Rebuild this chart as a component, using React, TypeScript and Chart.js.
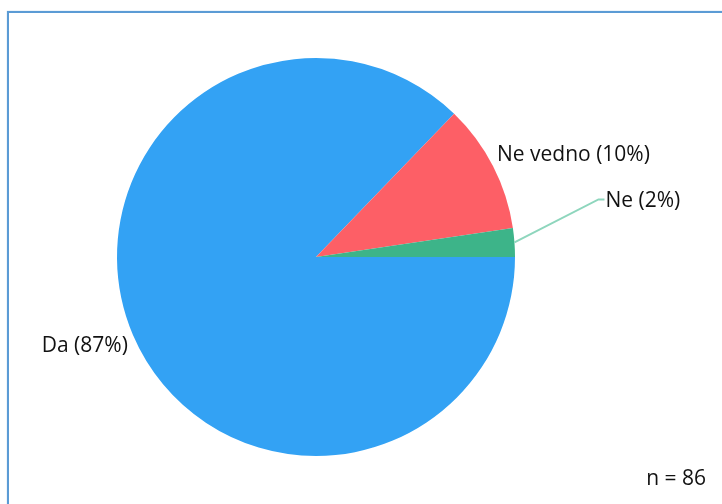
import React, { useEffect, useRef } from "react";
import { Chart, registerables } from "chart.js";

Chart.register(...registerables);

const categories = ["Da", "Ne vedno", "Ne"];
const counts = [75, 9, 2];
const percentLabels = ["87%", "10%", "2%"];
const colors = ["#33A2F4", "#FD5F66", "#3DB489"];
const leaderColor = "#8ED6BD";
const noteText = "n = 86";
const FONT = "21px 'Open Sans', sans-serif";

const labelPlugin = {
  id: "pieLabels",
  afterDraw(chart: any) {
    const ctx = chart.ctx;
    const meta = chart.getDatasetMeta(0);
    ctx.save();
    ctx.font = FONT;
    ctx.fillStyle = "#111111";
    meta.data.forEach((arc: any, i: number) => {
      const { x, y, startAngle, endAngle, outerRadius } = arc.getProps(
        ["x", "y", "startAngle", "endAngle", "outerRadius"],
        true
      );
      const mid = (startAngle + endAngle) / 2;
      const ex = x + Math.cos(mid) * outerRadius;
      const ey = y + Math.sin(mid) * outerRadius;
      const text = `${categories[i]} (${percentLabels[i]})`;
      const frac = (endAngle - startAngle) / (Math.PI * 2);
      if (frac < 0.05) {
        const bx = ex + 84;
        const by = ey - 43;
        ctx.strokeStyle = leaderColor;
        ctx.lineWidth = 2;
        ctx.beginPath();
        ctx.moveTo(ex, ey);
        ctx.lineTo(bx, by);
        ctx.lineTo(bx + 6, by);
        ctx.stroke();
        ctx.textAlign = "left";
        ctx.textBaseline = "middle";
        ctx.fillText(text, bx + 7, by + 2);
      } else if (Math.cos(mid) >= 0) {
        ctx.textAlign = "left";
        ctx.textBaseline = "middle";
        ctx.fillText(text, ex + 4, ey - 11);
      } else {
        ctx.textAlign = "right";
        ctx.textBaseline = "middle";
        ctx.fillText(text, ex - 5, ey + 11);
      }
    });
    ctx.textAlign = "right";
    ctx.textBaseline = "middle";
    ctx.fillText(noteText, chart.width - 16, 479);
    ctx.restore();
  },
};

export default function App() {
  const ref = useRef<HTMLCanvasElement>(null);
  useEffect(() => {
    document.body.style.margin = "0";
    const chart = new Chart(ref.current as HTMLCanvasElement, {
      type: "pie",
      data: {
        labels: categories,
        datasets: [
          {
            data: counts,
            backgroundColor: colors,
            borderWidth: 0,
            hoverOffset: 0,
          },
        ],
      },
      options: {
        responsive: false,
        animation: false,
        rotation: 90,
        layout: { padding: { top: 58, bottom: 48, left: 117, right: 207 } },
        plugins: {
          legend: { display: false },
          tooltip: { enabled: false },
        },
      },
      plugins: [labelPlugin],
    });
    return () => chart.destroy();
  }, []);
  return (
    <div style={{ position: "fixed", left: 0, top: 0, width: 722, height: 504, overflow: "hidden", background: "#fff" }}>
      <div
        style={{
          position: "absolute",
          left: 7,
          top: 11,
          width: 760,
          height: 540,
          border: "2px solid #5B9BD5",
          boxShadow: "0 0 1px #9CC3E8",
          boxSizing: "border-box",
        }}
      />
      <canvas ref={ref} width={722} height={504} style={{ position: "absolute", left: 0, top: 0 }} />
    </div>
  );
}
